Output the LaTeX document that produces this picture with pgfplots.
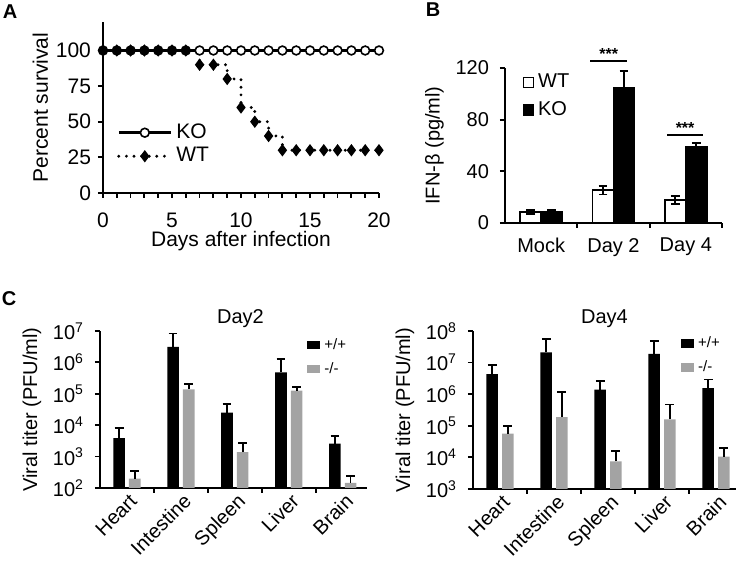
\documentclass[border=0pt]{standalone}
\usepackage{fontspec}
\setmainfont{Liberation Sans}
\usepackage{pgfplots}
\usepackage{pgfplotstable}
\pgfplotsset{compat=1.18}

\definecolor{koGrey}{HTML}{A3A3A3}

% B: IFN-beta, mean and error
\pgfplotstableread{
x wt wte ko koe
0 8.5 1.5 8.8 1.0
1 25.5 3.4 104.5 13.0
2 17.8 3.0 58.8 3.0
}\ifndata
% C: viral titers, mean and upper error
\pgfplotstableread{
x wt wte ko koe
0 3.9e3 4.1e3 200 140
1 3.1e6 5.2e6 1.38e5 7.2e4
2 2.5e4 2.2e4 1.38e3 1.32e3
3 4.8e5 8.2e5 1.25e5 3.5e4
4 2.6e3 1.8e3 145 100
}\daytwo
\pgfplotstableread{
x wt wte ko koe
0 4.3e6 4.0e6 5.7e4 4.1e4
1 2.1e7 3.5e7 1.87e5 9.9e5
2 1.4e6 1.2e6 7.5e3 8.5e3
3 1.9e7 2.9e7 1.6e5 3.1e5
4 1.55e6 1.35e6 1.05e4 9.5e3
}\dayfour

\pgfplotsset{
  panel/.style={
    scale only axis, anchor=south west,
    axis lines=left, axis line style={-, line width=1pt},
    tick align=outside, tick style={line width=0.9pt, black},
    major tick length=2.5pt, minor tick length=2.5pt,
    font=\fontsize{10}{12}\selectfont,
    /pgf/number format/assume math mode=true,
    tick label style={font=\fontsize{10}{12}\selectfont},
    label style={font=\fontsize{10}{12}\selectfont},
    legend style={draw=none, fill=none, inner sep=0pt},
    legend cell align=left,
  },
  sqlegend/.style={
    legend image code/.code={\fill[##1] (0pt,-2pt) rectangle (6.5pt,2.3pt);},
  },
  errbar/.style={forget plot, draw=none, mark=none,
    error bars/.cd, y dir=#1, y explicit,
    error bar style={draw=black, line width=0.9pt},
    error mark options={rotate=90, draw=black, mark size=2.2pt, line width=0.9pt}},
}

\begin{document}
\begin{tikzpicture}
\path[use as bounding box] (0,0) rectangle (368pt,280.5pt);

% ---- A: survival
\begin{axis}[panel, at={(51.5pt,184pt)}, width=138pt, height=85.5pt,
  xmin=0, xmax=20, ymin=0, ymax=120,
  xtick={0,5,10,15,20}, minor xtick={1,...,19},
  ytick={0,25,50,75,100},
  axis line style={line width=1.3pt},
  font=\fontsize{10.5}{12}\selectfont,
  tick label style={font=\fontsize{10.5}{12}\selectfont},
  label style={font=\fontsize{10.5}{12}\selectfont},
  xticklabel style={yshift=-4pt},
  xlabel={Days after infection}, ylabel={Percent survival},
  xlabel style={yshift=5pt}, ylabel style={yshift=-3pt},
  legend style={at={(0.05,0.43)}, anchor=north west, row sep=-1pt,
    font=\fontsize{10.5}{12}\selectfont},
  legend image code/.code={\draw[mark repeat=2,mark phase=2,#1]
    plot coordinates {(0pt,0pt) (13pt,0pt) (26pt,0pt)};},
]
\addplot[black, line width=1.2pt, mark=*, mark size=2.2pt,
  mark options={solid, fill=white, line width=0.8pt}]
  coordinates {(0,100) (1,100) (2,100) (3,100) (4,100) (5,100) (6,100)
    (7,100) (8,100) (9,100) (10,100) (11,100) (12,100) (13,100) (14,100)
    (15,100) (16,100) (17,100) (18,100) (19,100) (20,100)};
\addlegendentry{KO}
\addplot[const plot, black, line width=1.6pt, dash pattern=on 0pt off 3.8pt,
  line cap=round, mark=diamond*, mark size=2.7pt, mark options={solid, line width=0.5pt}]
  coordinates {(0,100) (1,100) (2,100) (3,100) (4,100) (5,100) (6,100)
    (7,90) (8,90) (9,80) (10,60) (11,50) (12,40) (13,30) (14,30)
    (15,30) (16,30) (17,30) (18,30) (19,30) (20,30)};
\addlegendentry{WT}
\end{axis}

% ---- B: IFN-beta
\begin{axis}[panel, at={(252.5pt,169pt)}, width=108.5pt, height=77.5pt,
  xmin=-0.5, xmax=2.5, ymin=0, ymax=120, ytick={0,40,80,120},
  yticklabel style={xshift=-2pt},
  xtick={0.5,1.5,2.5}, xticklabels={},
  extra x ticks={0,1,2}, extra x tick labels={Mock,Day 2,Day 4},
  extra x tick style={major tick length=0pt, tick label style={yshift=-4pt}},
  ylabel={IFN-β (pg/ml)}, ylabel style={yshift=-1pt},
  clip=false,
  legend style={at={(0.08,0.99)}, anchor=north west, row sep=1.5pt},
  legend image code/.code={\draw[#1, line width=0.7pt] (0pt,-2.5pt) rectangle (5pt,2.5pt);},
]
\addplot[ybar, bar width=0.29, bar shift=-0.145, fill=white, draw=black, line width=0.8pt]
  table[x=x, y=wt] {\ifndata};
\addlegendentry{WT}
\addplot[errbar=both] table[x expr=\thisrow{x}-0.145, y=wt, y error=wte] {\ifndata};
\addplot[ybar, bar width=0.29, bar shift=0.145, fill=black, draw=black, line width=0.8pt]
  table[x=x, y=ko] {\ifndata};
\addlegendentry{KO}
\addplot[errbar=both] table[x expr=\thisrow{x}+0.145, y=ko, y error=koe] {\ifndata};
\draw[line width=0.8pt] (axis cs:0.68,125.5) -- (axis cs:1.19,125.5);
\node[anchor=south, inner sep=0.5pt, font=\bfseries\fontsize{8}{8}\selectfont] at (axis cs:0.935,125.5) {***};
\draw[line width=0.8pt] (axis cs:1.74,68) -- (axis cs:2.24,68);
\node[anchor=south, inner sep=0.5pt, font=\bfseries\fontsize{8}{8}\selectfont] at (axis cs:1.99,68) {***};
\end{axis}

% ---- C: Day2
\begin{axis}[panel, sqlegend, at={(50pt,36.5pt)}, width=133.5pt, height=78.5pt,
  ymode=log, log origin=infty,
  xmin=-0.5, xmax=4.45, ymin=1e2, ymax=1e7,
  ytick={1e2,1e3,1e4,1e5,1e6,1e7},
  yticklabels={10\textsuperscript{2},10\textsuperscript{3},10\textsuperscript{4},
    10\textsuperscript{5},10\textsuperscript{6},10\textsuperscript{7}},
  yticklabel style={xshift=-2pt},
  yminorticks=false,
  xtick={0.5,1.5,2.5,3.5}, xticklabels={},
  extra x ticks={0,1,2,3,4}, extra x tick labels={Heart,Intestine,Spleen,Liver,Brain},
  extra x tick style={major tick length=0pt,
    tick label style={rotate=45, anchor=north east, inner sep=1pt, yshift=-1pt}},
  ylabel={Viral titer (PFU/ml)}, ylabel style={yshift=-1pt},
  title={Day2}, title style={yshift=-8pt, xshift=3.5pt},
  legend style={at={(0.775,0.98)}, anchor=north west, row sep=1pt,
    font=\fontsize{7.5}{8}\selectfont},
]
\addplot[ybar, bar width=0.215, bar shift=-0.145, fill=black, draw=none]
  table[x=x, y=wt] {\daytwo};
\addlegendentry{+/+}
\addplot[ybar, bar width=0.215, bar shift=0.145, fill=koGrey, draw=none]
  table[x=x, y=ko] {\daytwo};
\addlegendentry{-/-}
\addplot[errbar=plus] table[x expr=\thisrow{x}-0.145, y=wt, y error=wte] {\daytwo};
\addplot[errbar=plus] table[x expr=\thisrow{x}+0.145, y=ko, y error=koe] {\daytwo};
\end{axis}

% ---- C: Day4
\begin{axis}[panel, sqlegend, at={(236.5pt,36pt)}, width=131.5pt, height=79pt,
  ymode=log, log origin=infty,
  xmin=-0.5, xmax=4.37, ymin=1e3, ymax=1e8,
  ytick={1e3,1e4,1e5,1e6,1e7,1e8},
  yticklabels={10\textsuperscript{3},10\textsuperscript{4},10\textsuperscript{5},
    10\textsuperscript{6},10\textsuperscript{7},10\textsuperscript{8}},
  yticklabel style={xshift=-2pt},
  yminorticks=false,
  xtick={0.5,1.5,2.5,3.5}, xticklabels={},
  extra x ticks={0,1,2,3,4}, extra x tick labels={Heart,Intestine,Spleen,Liver,Brain},
  extra x tick style={major tick length=0pt,
    tick label style={rotate=45, anchor=north east, inner sep=1pt, yshift=-1pt}},
  ylabel={Viral titer (PFU/ml)}, ylabel style={yshift=-1pt},
  title={Day4}, title style={yshift=-8pt},
  legend style={at={(0.79,0.99)}, anchor=north west, row sep=1pt,
    font=\fontsize{7.5}{8}\selectfont},
]
\addplot[ybar, bar width=0.215, bar shift=-0.145, fill=black, draw=none]
  table[x=x, y=wt] {\dayfour};
\addlegendentry{+/+}
\addplot[ybar, bar width=0.215, bar shift=0.145, fill=koGrey, draw=none]
  table[x=x, y=ko] {\dayfour};
\addlegendentry{-/-}
\addplot[errbar=plus] table[x expr=\thisrow{x}-0.145, y=wt, y error=wte] {\dayfour};
\addplot[errbar=plus] table[x expr=\thisrow{x}+0.145, y=ko, y error=koe] {\dayfour};
\end{axis}

% panel letters
\node[font=\bfseries\fontsize{10}{10}\selectfont] at (5pt,274.5pt) {A};
\node[font=\bfseries\fontsize{10}{10}\selectfont] at (216.5pt,275.5pt) {B};
\node[font=\bfseries\fontsize{10}{10}\selectfont] at (4.5pt,131pt) {C};
\end{tikzpicture}
\end{document}
